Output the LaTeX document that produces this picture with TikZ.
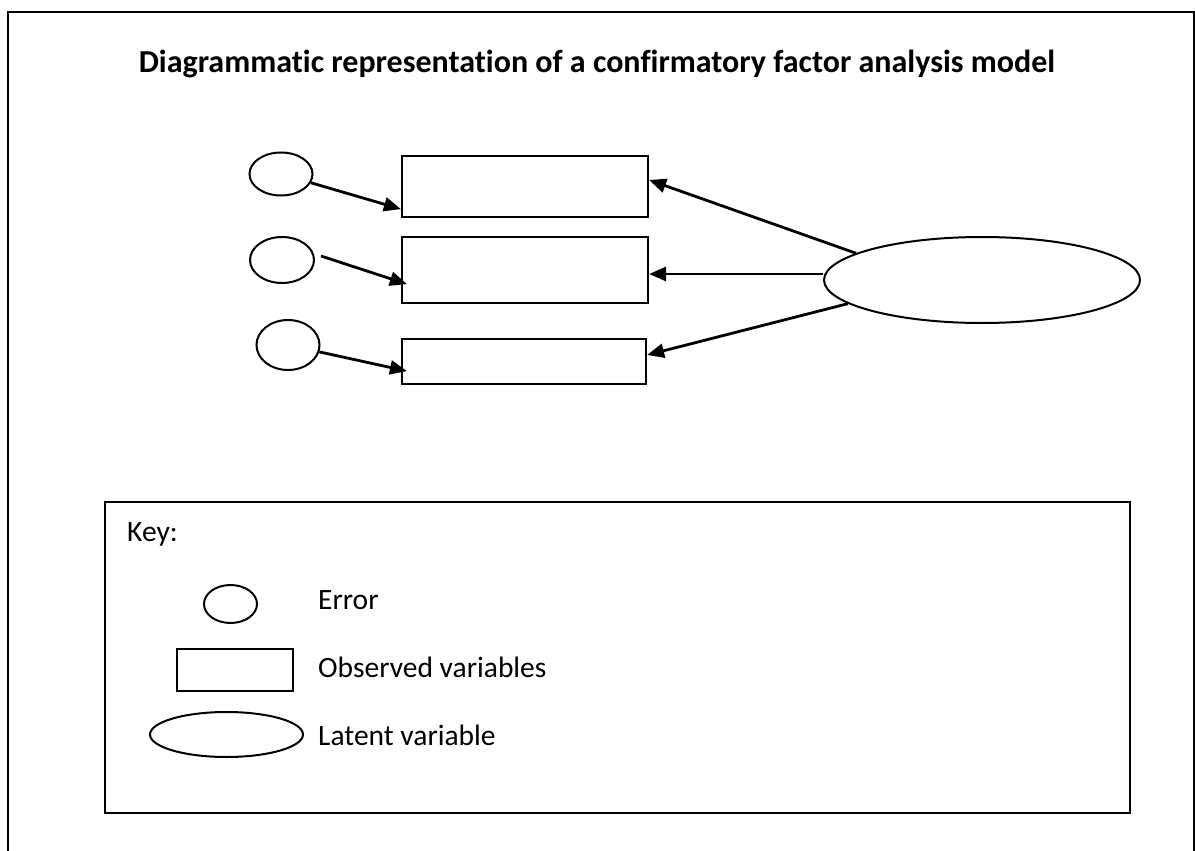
\documentclass[tikz,border=0pt]{standalone}
\usepackage{fontspec}
\setmainfont{Carlito}[Ligatures=NoCommon]
\usetikzlibrary{shapes.geometric,arrows.meta}

\tikzset{
    errnode/.style={draw, ellipse, line width=2pt, inner sep=0pt},
    obsbox/.style={draw, rectangle, line width=2.2pt, inner sep=0pt},
    latnode/.style={draw, ellipse, line width=2pt, inner sep=0pt},
    arr/.style={line width=2.8pt, -{Triangle[length=17pt,width=14pt]}},
    keytext/.style={anchor=base west, inner sep=0pt, font=\fontsize{29.5}{35}\selectfont}
}

\begin{document}
\begin{tikzpicture}[x=1pt, y=-1pt]
        \useasboundingbox (0,0) rectangle (1195,851);
        \draw[line width=2.4pt] (8,900) -- (8,12) -- (1194,12) -- (1194,900);

        \node[anchor=base, inner sep=0pt, font=\fontsize{32}{38}\selectfont\bfseries] (title) at (597,73) {Diagrammatic representation of a confirmatory factor analysis model};

        % error terms
        \node[errnode, minimum width=63pt, minimum height=43pt] (e1) at (281,174) {};
        \node[errnode, minimum width=64pt, minimum height=46pt] (e2) at (282,260) {};
        \node[errnode, minimum width=63pt, minimum height=50pt] (e3) at (288,345) {};

        % observed variables
        \node[obsbox, minimum width=246pt, minimum height=61pt] (o1) at (525,186.5) {};
        \node[obsbox, minimum width=246pt, minimum height=66pt] (o2) at (525,270) {};
        \node[obsbox, minimum width=244pt, minimum height=45pt] (o3) at (524,361.5) {};

        % latent variable
        \node[latnode, minimum width=316pt, minimum height=86pt] (lat) at (982,280) {};

        \draw[arr] (e1) -- ([yshift=9pt]o1.south west);
        \draw[arr] ([xshift=6pt,yshift=4pt]e2.east) -- ([xshift=6pt,yshift=20pt]o2.south west);
        \draw[arr] (e3) -- ([xshift=6pt,yshift=14pt]o3.south west);

        \draw[arr] (lat.168) -- ([yshift=6.5pt]o1.east);
        \draw[arr] ([yshift=6pt]lat.west) -- ([yshift=-4pt]o2.east);
        \draw[arr] (lat.190) -- ([yshift=6.5pt]o3.east);

        % key
        \draw[line width=2.2pt] (105,502) rectangle (1130,813);
        \node[keytext] (keylbl) at (127,541) {Key:};

        \node[errnode, minimum width=53pt, minimum height=38pt] (keyerr) at (230.5,604) {};
        \node[obsbox, minimum width=116pt, minimum height=42pt] (keyobs) at (235,670) {};
        \node[latnode, minimum width=153pt, minimum height=45pt] (keylat) at (226.5,734.5) {};

        \node[keytext] (errtxt) at (318,609) {Error};
        \node[keytext] (obstxt) at (318,677) {Observed variables};
        \node[keytext] (lattxt) at (318,745) {Latent variable};
\end{tikzpicture}
\end{document}
